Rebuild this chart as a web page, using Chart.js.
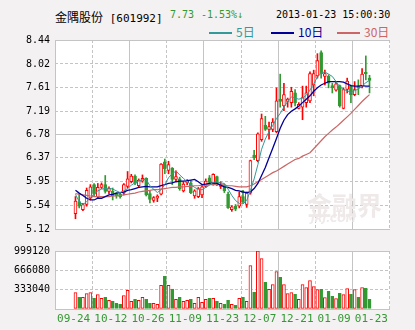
<!DOCTYPE html>
<html>
<head>
<meta charset="utf-8">
<script src="https://cdn.jsdelivr.net/npm/chart.js@4.4.1/dist/chart.umd.min.js"></script>
<style>
  html, body { margin: 0; padding: 0; background: #f3f1f1; }
  #wrap { position: relative; width: 415px; height: 330px; overflow: hidden; }
  #wrap canvas { position: absolute; left: 0; }
  .txt { position: absolute; white-space: nowrap; line-height: 1; }
  .mono { font-family: "DejaVu Sans Mono", "Liberation Mono", monospace; font-size: 10px; }
  .cjk { font-family: "Noto Sans CJK SC", sans-serif; font-size: 12px; }
  .up { color: #339933; }
  .key { position: absolute; height: 2px; top: 32px; width: 23px; }
  .wm { position: absolute; pointer-events: none; color: #efe9e9; }
</style>
</head>
<body>
<div id="wrap">
  <!-- header: name, code, last price, change, timestamp -->
  <div class="txt" style="left:55px;top:9px;">
    <span class="cjk">金隅股份</span><span class="mono" style="font-size:11px;"> [601992]</span>
  </div>
  <div class="txt mono up" style="left:170px;top:10px;">7.73</div>
  <div class="txt mono up" style="left:201px;top:10px;">-1.53%↓</div>
  <div class="txt mono" style="left:276px;top:10px;">2013-01-23 15:00:30</div>

  <!-- moving average keys -->
  <div class="key" style="left:209px;background:#339999;"></div>
  <div class="txt cjk" style="left:236px;top:26px;color:#339999;">5日</div>
  <div class="key" style="left:271px;background:#000099;"></div>
  <div class="txt cjk" style="left:298px;top:26px;color:#000099;">10日</div>
  <div class="key" style="left:337px;background:#cc6666;"></div>
  <div class="txt cjk" style="left:364px;top:26px;color:#cc6666;">30日</div>

  <canvas id="priceChart" width="415" height="240" style="top:0;"></canvas>
  <canvas id="volChart" width="415" height="90" style="top:240px;"></canvas>

  <div class="wm cjk" style="left:307px;top:186px;font-size:25px;font-weight:bold;">金融界</div>
  <div class="wm" style="left:311px;top:213px;font:italic bold 10px 'DejaVu Sans',sans-serif;">JRJ.COM</div>
</div>

<script>
// ---- data ---------------------------------------------------------------
const dateLabels = ['09-24', '10-12', '10-26', '11-09', '11-23', '12-07', '12-21', '01-09', '01-23'];
const priceTicks = [5.12, 5.54, 5.95, 6.37, 6.78, 7.19, 7.61, 8.02, 8.44];
const volumeTicks = [0, 333040, 666080, 999120];

const opens = [
  5.39, 5.60, 5.46, 5.55, 5.66, 5.90, 5.68, 5.85, 5.90, 5.78,
  5.78, 5.74, 5.73, 5.75, 5.87, 5.95, 6.05, 5.88, 5.96, 6.01,
  5.74, 5.62, 5.66, 5.73, 6.30, 6.15, 6.19, 5.99, 6.00, 5.79,
  5.93, 5.93, 5.70, 5.69, 5.72, 5.87, 6.02, 5.91, 6.04, 5.87,
  5.88, 5.73, 5.46, 5.52, 5.52, 5.69, 5.55, 5.75, 6.42, 6.32,
  6.69, 6.94, 6.87, 6.87, 6.83, 7.40, 7.28, 7.36, 7.34, 7.51,
  7.24, 7.26, 7.34, 7.37, 7.65, 7.81, 8.22, 7.80, 7.80, 7.64,
  7.56, 7.64, 7.24, 7.57, 7.63, 7.48, 7.63, 7.63, 7.87, 7.77
];
const highs = [
  5.69, 5.74, 5.57, 5.84, 5.90, 5.92, 5.92, 5.93, 6.06, 5.86,
  5.84, 5.76, 5.75, 5.92, 6.13, 6.08, 6.07, 6.00, 6.07, 6.02,
  5.78, 5.69, 5.72, 6.27, 6.35, 6.31, 6.20, 6.14, 6.03, 5.95,
  5.99, 5.97, 5.81, 5.85, 5.89, 6.00, 6.06, 6.09, 6.05, 5.95,
  5.91, 5.77, 5.53, 5.55, 5.77, 5.80, 5.77, 6.33, 6.50, 6.81,
  7.14, 7.10, 7.00, 7.06, 7.60, 7.84, 7.68, 7.42, 7.61, 7.57,
  7.34, 7.63, 7.63, 7.88, 7.91, 8.20, 8.25, 7.91, 7.83, 7.68,
  7.71, 7.65, 7.60, 7.77, 7.65, 7.71, 7.74, 7.94, 8.16, 7.82
];
const lows = [
  5.30, 5.49, 5.44, 5.52, 5.63, 5.70, 5.66, 5.83, 5.75, 5.74,
  5.63, 5.66, 5.66, 5.72, 5.84, 5.93, 5.90, 5.85, 5.94, 5.70,
  5.58, 5.59, 5.60, 5.72, 6.09, 6.09, 5.90, 5.95, 5.80, 5.77,
  5.90, 5.74, 5.66, 5.67, 5.67, 5.85, 5.92, 5.89, 5.88, 5.83,
  5.76, 5.48, 5.43, 5.44, 5.49, 5.57, 5.50, 5.73, 6.34, 6.30,
  6.66, 6.85, 6.70, 6.83, 6.81, 7.26, 7.20, 7.26, 7.26, 7.28,
  7.23, 7.04, 7.26, 7.34, 7.46, 7.77, 7.77, 7.65, 7.60, 7.51,
  7.54, 7.26, 7.23, 7.51, 7.34, 7.46, 7.48, 7.60, 7.74, 7.51
];
const closes = [
  5.61, 5.52, 5.55, 5.80, 5.86, 5.73, 5.85, 5.90, 5.78, 5.83,
  5.70, 5.70, 5.69, 5.90, 6.00, 6.05, 5.92, 5.98, 6.01, 5.72,
  5.64, 5.67, 5.70, 6.26, 6.18, 6.25, 5.99, 6.04, 5.83, 5.91,
  5.97, 5.76, 5.79, 5.83, 5.86, 5.96, 5.94, 6.08, 5.90, 5.91,
  5.79, 5.49, 5.51, 5.47, 5.69, 5.60, 5.75, 6.32, 6.37, 6.79,
  7.06, 6.87, 6.92, 7.00, 7.37, 7.36, 7.48, 7.40, 7.54, 7.34,
  7.31, 7.43, 7.51, 7.85, 7.85, 8.08, 7.85, 7.85, 7.68, 7.60,
  7.67, 7.28, 7.57, 7.72, 7.48, 7.57, 7.60, 7.84, 7.85, 7.73
];
const volumes = [
  281000, 201000, 201000, 264000, 281000, 184000, 247000, 184000, 201000, 149000,
  132000, 98000, 80000, 230000, 322000, 132000, 167000, 149000, 201000, 167000,
  98000, 98000, 80000, 408000, 563000, 408000, 345000, 167000, 201000, 132000,
  149000, 167000, 98000, 201000, 115000, 167000, 184000, 184000, 132000, 98000,
  80000, 149000, 80000, 63000, 184000, 201000, 132000, 746000, 287000, 999120,
  867000, 459000, 339000, 419000, 643000, 545000, 419000, 264000, 281000, 253000,
  167000, 419000, 367000, 488000, 385000, 333000, 339000, 195000, 304000, 218000,
  178000, 270000, 247000, 350000, 253000, 333000, 201000, 367000, 356000, 167000
];
const ma5 = [
  5.73, 5.60, 5.55, 5.60, 5.67, 5.73, 5.79, 5.82, 5.83, 5.84,
  5.82, 5.79, 5.76, 5.79, 5.83, 5.89, 5.93, 5.96, 5.99, 5.99,
  5.88, 5.82, 5.76, 5.81, 5.90, 6.02, 6.09, 6.14, 6.07, 6.01,
  5.95, 5.90, 5.85, 5.82, 5.81, 5.85, 5.89, 5.94, 5.95, 5.93,
  5.92, 5.82, 5.71, 5.62, 5.57, 5.56, 5.62, 5.80, 6.00, 6.25,
  6.52, 6.70, 6.83, 6.94, 7.06, 7.15, 7.26, 7.36, 7.44, 7.42,
  7.40, 7.42, 7.47, 7.56, 7.67, 7.79, 7.86, 7.88, 7.84, 7.80,
  7.71, 7.62, 7.57, 7.55, 7.52, 7.55, 7.58, 7.63, 7.69, 7.73
];
const ma10 = [
  5.80, 5.75, 5.71, 5.66, 5.63, 5.63, 5.66, 5.66, 5.69, 5.72,
  5.73, 5.75, 5.76, 5.77, 5.80, 5.81, 5.83, 5.85, 5.86, 5.87,
  5.86, 5.86, 5.86, 5.88, 5.90, 5.92, 5.93, 5.95, 5.96, 5.96,
  5.97, 5.98, 5.99, 5.95, 5.90, 5.91, 5.92, 5.93, 5.92, 5.89,
  5.86, 5.85, 5.83, 5.80, 5.79, 5.77, 5.76, 5.77, 5.83, 5.92,
  6.06, 6.20, 6.37, 6.54, 6.71, 6.89, 7.03, 7.13, 7.19, 7.23,
  7.28, 7.34, 7.40, 7.46, 7.54, 7.60, 7.65, 7.68, 7.71, 7.71,
  7.71, 7.71, 7.70, 7.67, 7.64, 7.63, 7.63, 7.64, 7.63, 7.63
];
const ma30 = [
  5.74, 5.73, 5.72, 5.71, 5.70, 5.69, 5.69, 5.69, 5.69, 5.69,
  5.70, 5.70, 5.71, 5.72, 5.73, 5.74, 5.75, 5.77, 5.78, 5.79,
  5.80, 5.81, 5.81, 5.82, 5.83, 5.84, 5.85, 5.85, 5.86, 5.86,
  5.87, 5.87, 5.88, 5.88, 5.89, 5.89, 5.90, 5.90, 5.90, 5.90,
  5.89, 5.88, 5.88, 5.87, 5.86, 5.86, 5.86, 5.88, 5.91, 5.95,
  5.99, 6.03, 6.07, 6.11, 6.14, 6.18, 6.22, 6.26, 6.30, 6.34,
  6.36, 6.40, 6.43, 6.46, 6.53, 6.60, 6.67, 6.74, 6.80, 6.86,
  6.91, 6.97, 7.03, 7.09, 7.15, 7.22, 7.29, 7.36, 7.42, 7.48
];

// ---- styling helpers ----------------------------------------------------
const RED = '#ff0000';
const GREEN = '#339933';
const GRID = '#c4c4c4';
const MONO = { family: 'DejaVu Sans Mono', size: 10 };

const isUp = i => closes[i] >= opens[i];
const xAt = i => i + 0.5;               // candle i sits in the middle of its slot
const gridSteps = [0, 10, 20, 30, 40, 50, 60, 70, 80];

// white plot area on the grey page
const plotBackground = {
  id: 'plotBackground',
  beforeDraw(chart) {
    const { ctx, chartArea: a } = chart;
    ctx.save();
    ctx.fillStyle = '#ffffff';
    ctx.fillRect(a.left, a.top, a.width, a.height);
    ctx.restore();
  }
};

// solid lines on the frame and the quarters, dashed elsewhere
const xDash = c => (c.tick && c.tick.value % 20 === 0) ? [] : [3, 2];
const xGrid = {
  type: 'linear', min: 0, max: 80,
  afterBuildTicks: s => { s.ticks = gridSteps.map(v => ({ value: v })); },
  grid: { color: GRID, lineWidth: 1, drawTicks: false },
  border: { display: false, dash: xDash }
};

// ---- price panel --------------------------------------------------------
new Chart(document.getElementById('priceChart'), {
  type: 'bar',
  data: {
    datasets: [
      { type: 'line', label: 'MA5', order: 0, data: ma5.map((v, i) => ({ x: xAt(i), y: v })),
        borderColor: '#339999', borderWidth: 1, pointRadius: 0, tension: 0 },
      { type: 'line', label: 'MA10', order: 0, data: ma10.map((v, i) => ({ x: xAt(i), y: v })),
        borderColor: '#000099', borderWidth: 1.3, pointRadius: 0, tension: 0 },
      { type: 'line', label: 'MA30', order: 0, data: ma30.map((v, i) => ({ x: xAt(i), y: v })),
        borderColor: '#cc6666', borderWidth: 1.2, pointRadius: 0, tension: 0 },
      { label: 'body', order: 1, grouped: false, barThickness: 3, minBarLength: 1,
        data: opens.map((o, i) => ({ x: xAt(i), y: [o, closes[i]] })),
        backgroundColor: c => isUp(c.dataIndex) ? '#ffffff' : GREEN,
        borderColor: c => isUp(c.dataIndex) ? RED : GREEN,
        borderWidth: 1, borderSkipped: false },
      { label: 'wick', order: 2, grouped: false, barThickness: 1,
        data: lows.map((l, i) => ({ x: xAt(i), y: [l, highs[i]] })),
        backgroundColor: c => isUp(c.dataIndex) ? RED : GREEN,
        borderWidth: 0 }
    ]
  },
  options: {
    responsive: false,
    animation: false,
    layout: { padding: { top: 40, right: 25, bottom: 5, left: 0 } },
    plugins: { legend: { display: false }, tooltip: { enabled: false } },
    scales: {
      x: { ...xGrid, ticks: { display: false } },
      y: {
        min: 5.12, max: 8.44,
        afterBuildTicks: s => { s.ticks = priceTicks.map(v => ({ value: v })); },
        afterFit: s => { s.width = 55; },
        ticks: { color: '#000', font: MONO, padding: 5, callback: v => v.toFixed(2) },
        grid: { color: GRID, lineWidth: 1, drawTicks: false },
        border: { display: false, dash: c => [0, 4, 8].includes(c.index) ? [] : [3, 2] }
      }
    }
  },
  plugins: [plotBackground]
});

// ---- volume panel -------------------------------------------------------
new Chart(document.getElementById('volChart'), {
  type: 'bar',
  data: {
    datasets: [{
      label: 'volume', barThickness: 3,
      data: volumes.map((v, i) => ({ x: xAt(i), y: v })),
      backgroundColor: c => isUp(c.dataIndex) ? '#ffffff' : GREEN,
      borderColor: c => isUp(c.dataIndex) ? RED : GREEN,
      borderWidth: 1, borderSkipped: false
    }]
  },
  options: {
    responsive: false,
    animation: false,
    layout: { padding: { top: 8, right: 25, bottom: 0, left: 0 } },
    plugins: { legend: { display: false }, tooltip: { enabled: false } },
    scales: {
      x: {
        ...xGrid,
        afterFit: s => { s.height = 21; },
        ticks: {
          color: GREEN, font: { family: 'DejaVu Sans Mono', size: 11 }, padding: 4,
          autoSkip: false, maxRotation: 0,
          callback: (v, idx) => dateLabels[idx]
        }
      },
      y: {
        min: 0, max: 999120,
        afterBuildTicks: s => { s.ticks = volumeTicks.map(v => ({ value: v })); },
        afterFit: s => { s.width = 55; },
        ticks: { color: '#000', font: MONO, padding: 5, callback: v => v === 0 ? '' : String(v) },
        grid: { color: GRID, lineWidth: 1, drawTicks: false },
        border: { display: false, dash: c => [0, 3].includes(c.index) ? [] : [3, 2] }
      }
    }
  },
  plugins: [plotBackground]
});
</script>
</body>
</html>
